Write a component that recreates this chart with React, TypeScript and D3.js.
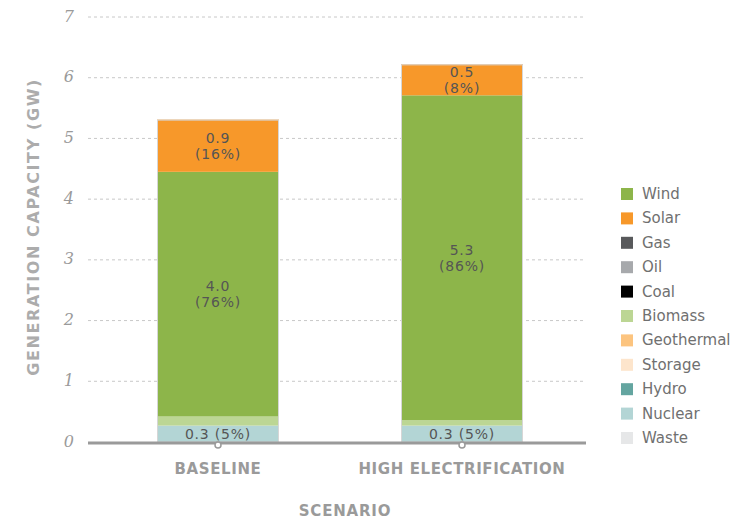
import React from "react";
import * as d3 from "d3";

const categories = ["BASELINE", "HIGH ELECTRIFICATION"];
const legendSources = ["Wind", "Solar", "Gas", "Oil", "Coal", "Biomass", "Geothermal", "Storage", "Hydro", "Nuclear", "Waste"];
const legendColors = ["#8db54a", "#f7982a", "#58595b", "#a7a9ac", "#000000", "#bcd694", "#fcc47f", "#fde5cc", "#64a5a0", "#b3d5d5", "#e6e7e8"];
const stackOrder = ["Waste", "Nuclear", "Hydro", "Storage", "Geothermal", "Biomass", "Coal", "Oil", "Gas", "Wind", "Solar"];

const waste = [0, 0];
const nuclear = [0.27, 0.27];
const hydro = [0, 0];
const storage = [0, 0];
const geothermal = [0, 0];
const biomass = [0.15, 0.09];
const coal = [0, 0];
const oil = [0, 0];
const gas = [0, 0];
const wind = [4.03, 5.35];
const solar = [0.86, 0.51];

const windLabels = [["4.0", "(76%)"], ["5.3", "(86%)"]];
const solarLabels = [["0.9", "(16%)"], ["0.5", "(8%)"]];
const nuclearLabels = [["0.3 (5%)"], ["0.3 (5%)"]];

const yTicks = [0, 1, 2, 3, 4, 5, 6, 7];

const W = 736;
const H = 520;
const plotLeft = 88;
const plotRight = 586;

export default function App() {
  const seriesMap: Record<string, number[]> = {
    Waste: waste, Nuclear: nuclear, Hydro: hydro, Storage: storage, Geothermal: geothermal,
    Biomass: biomass, Coal: coal, Oil: oil, Gas: gas, Wind: wind, Solar: solar,
  };
  const labelMap: Record<string, string[][]> = { Wind: windLabels, Solar: solarLabels, Nuclear: nuclearLabels };
  const colorOf = (s: string) => legendColors[legendSources.indexOf(s)];

  const table = categories.map((c, i) => {
    const row: any = { category: c };
    stackOrder.forEach((s) => (row[s] = seriesMap[s][i]));
    return row;
  });
  const stacked = d3.stack().keys(stackOrder)(table);

  const x = d3.scaleBand().domain(categories).range([83.8, 596.2]).paddingInner(0.5).paddingOuter(0.3);
  const y = d3.scaleLinear().domain([0, 7]).range([442, 17]);

  const totals = categories.map((_, i) => d3.sum(stackOrder, (s) => seriesMap[s][i]));

  const valueFont = "'DejaVu Sans', sans-serif";

  return (
    <svg width={W} height={H} style={{ position: "absolute", left: 0, top: 0, background: "#fff" }}>
      {/* gridlines */}
      {yTicks.filter((t) => t > 0).map((t) => (
        <line key={t} x1={plotLeft} x2={plotRight} y1={y(t)} y2={y(t)} stroke="#c8c8c8" strokeWidth={1} strokeDasharray="3,3" />
      ))}
      {/* y tick labels */}
      {yTicks.map((t) => (
        <text key={t} x={74} y={y(t) - 1} textAnchor="end" dominantBaseline="central"
          fontFamily="'DejaVu Serif', serif" fontStyle="italic" fontSize={16} fill="#9a9a9a">{t}</text>
      ))}
      {/* y title */}
      <text transform={`translate(39,227) rotate(-90)`} textAnchor="middle"
        fontFamily={valueFont} fontWeight="bold" fontSize={16} letterSpacing={1.6} fill="#acacac">GENERATION CAPACITY (GW)</text>

      {/* bars */}
      {stacked.map((layer) => (
        <g key={layer.key} fill={colorOf(layer.key)}>
          {layer.map((d, i) => {
            const h = y(d[0]) - y(d[1]);
            if (h <= 0) return null;
            return <rect key={i} x={x(categories[i])} y={y(d[1])} width={x.bandwidth()} height={h} />;
          })}
        </g>
      ))}
      {/* bar outlines */}
      {categories.map((c, i) => (
        <rect key={c} x={x(c)! + 0.5} y={y(totals[i]) + 0.5} width={x.bandwidth() - 1} height={y(0) - y(totals[i]) - 0.5}
          fill="none" stroke="#d6d6d6" strokeWidth={1} />
      ))}
      {/* labels */}
      {stacked.map((layer) => {
        const labs = labelMap[layer.key];
        if (!labs) return null;
        return layer.map((d, i) => {
          const cy = (y(d[0]) + y(d[1])) / 2;
          const lines = labs[i];
          const lh = 16;
          const cx = x(categories[i])! + x.bandwidth() / 2;
          return (
            <text key={layer.key + i} textAnchor="middle" fontFamily={valueFont} fontSize={14} fill="#555" letterSpacing={0.8}>
              {lines.map((ln, k) => (
                <tspan key={k} x={cx} y={cy + (k - (lines.length - 1) / 2) * lh} dominantBaseline="central">{ln}</tspan>
              ))}
            </text>
          );
        });
      })}

      {/* x axis */}
      <line x1={plotLeft} x2={plotRight} y1={y(0) + 1} y2={y(0) + 1} stroke="#9a9a9a" strokeWidth={3} />
      {categories.map((c) => (
        <circle key={c} cx={x(c)! + x.bandwidth() / 2} cy={y(0) + 3} r={3} fill="#fff" stroke="#9a9a9a" strokeWidth={1.5} />
      ))}
      {categories.map((c) => (
        <text key={c} x={x(c)! + x.bandwidth() / 2} y={474} textAnchor="middle" fontFamily={valueFont}
          fontWeight="bold" fontSize={15} letterSpacing={0.6} fill="#9a9a9a">{c}</text>
      ))}
      <text x={345} y={516} textAnchor="middle" fontFamily={valueFont} fontWeight="bold" fontSize={15}
        letterSpacing={0.8} fill="#9a9a9a">SCENARIO</text>

      {/* legend */}
      {legendSources.map((s, i) => (
        <g key={s} transform={`translate(621,${194 + i * 24.4})`}>
          <rect x={0} y={-6} width={12} height={12} fill={legendColors[i]} />
          <text x={21} y={0} dominantBaseline="central" fontFamily={valueFont} fontSize={15} fill="#707070">{s}</text>
        </g>
      ))}
    </svg>
  );
}
